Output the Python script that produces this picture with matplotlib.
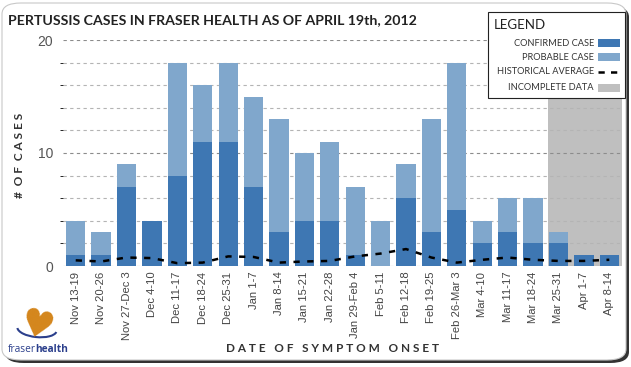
import matplotlib
matplotlib.use('Agg')
import matplotlib.pyplot as plt
from matplotlib.patches import FancyBboxPatch, Rectangle, Arc
from matplotlib.lines import Line2D

weeks = ['Nov 13-19', 'Nov 20-26', 'Nov 27-Dec 3', 'Dec 4-10', 'Dec 11-17',
         'Dec 18-24', 'Dec 25-31', 'Jan 1-7', 'Jan 8-14', 'Jan 15-21',
         'Jan 22-28', 'Jan 29-Feb 4', 'Feb 5-11', 'Feb 12-18', 'Feb 19-25',
         'Feb 26-Mar 3', 'Mar 4-10', 'Mar 11-17', 'Mar 18-24', 'Mar 25-31',
         'Apr 1-7', 'Apr 8-14']
confirmed = [1, 1, 7, 4, 8, 11, 11, 7, 3, 4, 4, 1, 0, 6, 3, 5, 2, 3, 2, 2, 1, 1]
probable = [3, 2, 2, 0, 10, 5, 7, 8, 10, 6, 7, 6, 4, 3, 10, 13, 2, 3, 4, 1, 0, 0]
hist_avg = [0.5, 0.4, 0.75, 0.7, 0.25, 0.3, 0.85, 0.8, 0.3, 0.4, 0.45, 0.85,
            1.1, 1.5, 0.75, 0.3, 0.55, 0.75, 0.55, 0.45, 0.45, 0.55]
incomplete_from = 'Mar 25-31'

C_CONF = '#3e77b3'
C_PROB = '#80a7cc'
C_GRAY = '#bfbfbf'

W, H = 631, 367
fig = plt.figure(figsize=(W / 100, H / 100), dpi=100)


def px(x, y):
    return x / W, 1 - y / H


# rounded card with shadow
fig.patches.append(FancyBboxPatch(px(5, 363), 624 / W, 357 / H,
                                  boxstyle='round,pad=0,rounding_size=0.03',
                                  transform=fig.transFigure, facecolor='#333333',
                                  edgecolor='none', zorder=-2))
fig.patches.append(FancyBboxPatch(px(2, 360), 624 / W, 357 / H,
                                  boxstyle='round,pad=0,rounding_size=0.03',
                                  transform=fig.transFigure, facecolor='white',
                                  edgecolor='#c8c8c8', lw=0.8, zorder=-1))

ax = fig.add_axes([63 / W, 1 - 266 / H, 559 / W, 226 / H])
ax.set_facecolor('none')
x = list(range(len(weeks)))

i0 = weeks.index(incomplete_from)
ax.axvspan(i0 - 0.42, len(weeks) - 0.5, color=C_GRAY, lw=0, zorder=0)

ax.bar(x, confirmed, width=0.76, color=C_CONF, zorder=2)
ax.bar(x, probable, bottom=confirmed, width=0.76, color=C_PROB, zorder=2)
ax.plot(x, hist_avg, color='black', lw=1.8, ls=(0, (2.5, 3)), zorder=3)

ax.set_xlim(-0.5, len(weeks) - 0.5)
ax.set_ylim(0, 20)
ax.set_yticks([0, 10, 20])
ax.set_yticks(range(2, 20, 2), minor=True)
ax.yaxis.grid(True, which='major', color='#8c8c8c', ls=(0, (3, 3)), lw=0.8)
ax.yaxis.grid(True, which='minor', color='#b4b4b4', ls=(0, (3, 3)), lw=0.8)
ax.set_axisbelow(True)
ax.set_xticks(x)
xlabs = ax.set_xticklabels(weeks, rotation=90, family='Liberation Sans', fontsize=7.5,
                           color='#444444')
for lab in ax.get_yticklabels():
    lab.set_family('Liberation Sans')
    lab.set_fontsize(10)
    lab.set_color('#555555')
ax.tick_params(length=0, pad=7)
ax.tick_params(axis='x', pad=4)
for s in ax.spines.values():
    s.set_visible(False)

# size tick labels so 'Nov 27-Dec 3' runs about 69 px, as in the source
fig.canvas.draw()
h = xlabs[2].get_window_extent().height
for lab in xlabs:
    lab.set_fontsize(7.5 * 69 / h)

fig.text(*px(8, 20), 'PERTUSSIS CASES IN FRASER HEALTH AS OF APRIL 19th, 2012',
         family='Lato', weight='bold', fontsize=10.2, color='#222222', va='center')
fig.text(*px(20, 155), '#  O F  C A S E S', rotation=90, family='Lato',
         weight='bold', fontsize=8.6, color='#333333', ha='center', va='center')
fig.text(*px(333, 348), 'D A T E   O F   S Y M P T O M   O N S E T', family='Lato',
         weight='bold', fontsize=8.5, color='#333333', ha='center', va='center')

# legend box
fig.patches.append(Rectangle(px(488, 98), 137 / W, 86 / H, transform=fig.transFigure,
                             facecolor='white', edgecolor='#222222', lw=0.8, zorder=5))
fig.text(*px(494, 25), 'LEGEND', family='Lato', fontsize=9.5, color='#222222',
         va='center', zorder=6)
entries = ['CONFIRMED CASE', 'PROBABLE CASE', 'HISTORICAL AVERAGE', 'INCOMPLETE DATA']
ys = [43, 57, 72, 88]
for name, yy in zip(entries, ys):
    fig.text(*px(594, yy), name, family='Lato', fontsize=6.7, color='#333333',
             ha='right', va='center', zorder=6)
for col, yy in zip([C_CONF, C_PROB, None, C_GRAY], ys):
    if col is None:
        fig.lines.append(Line2D([598 / W, 620 / W], [1 - yy / H] * 2,
                                transform=fig.transFigure, color='black', lw=1.8,
                                ls=(0, (2.5, 2.5)), zorder=6))
    else:
        fig.patches.append(Rectangle(px(598, yy + 4), 22 / W, 8 / H,
                                     transform=fig.transFigure, facecolor=col,
                                     edgecolor='none', zorder=6))

# logo
fig.text(*px(36, 328), '\u2665', family='DejaVu Sans', fontsize=27, color='#d4861c',
         ha='center', va='center', rotation=-15)
fig.patches.append(Arc(px(37, 329), 40 / W, 16 / H, angle=-15, theta1=190, theta2=360,
                       transform=fig.transFigure, color='#2b3f8c', lw=1.5))
t1 = fig.text(*px(8, 350), 'fraser', family='Open Sans', fontsize=7.3, color='#2b3f8c',
              va='center')
fig.canvas.draw()
bb = t1.get_window_extent()
fig.text(bb.x1 / W - 1 / W, 1 - 350 / H, 'health', family='Open Sans', weight='bold',
         fontsize=7.3, color='#2b3f8c', va='center')

fig.savefig('out.png', dpi=100)
plt.close()
